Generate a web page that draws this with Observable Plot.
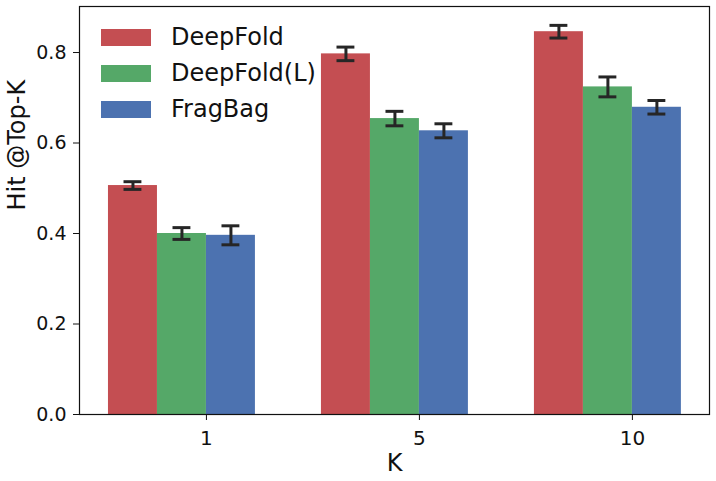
<!DOCTYPE html>
<html><head><meta charset="utf-8">
<script src="https://cdn.jsdelivr.net/npm/d3@7"></script>
<script src="https://cdn.jsdelivr.net/npm/@observablehq/plot@0.6"></script>
<style>
body{margin:0;background:#fff;font-family:"DejaVu Sans",sans-serif}
#wrap{position:relative;width:716px;height:481px}
.leg{position:absolute;left:101px;font-size:24px;color:#111}
.leg .row{display:flex;align-items:center;height:36px}
.leg .sw{width:50px;height:17px;margin-right:20px}
</style>
</head><body><div id="wrap"></div>
<script>
const kValues = ["1", "5", "10"];
const methods = ["DeepFold", "DeepFold(L)", "FragBag"];
const colors = ["#C44E52", "#55A868", "#4C72B0"];
const deepFold = [0.506, 0.797, 0.846];
const deepFoldL = [0.400, 0.654, 0.724];
const fragBag = [0.396, 0.627, 0.679];
const deepFoldErr = [0.0085, 0.015, 0.014];
const deepFoldLErr = [0.013, 0.016, 0.022];
const fragBagErr = [0.021, 0.0155, 0.015];
const yTicks = [0, 0.2, 0.4, 0.6, 0.8];

const values = [deepFold, deepFoldL, fragBag];
const errs = [deepFoldErr, deepFoldLErr, fragBagErr];
const w = 0.23, cap = 0.042;
const rows = [];
methods.forEach((m, s) => kValues.forEach((k, i) => {
  rows.push({method: m, k, i, s, value: values[s][i], err: errs[s][i],
    x1: i + (s - 2) * w, x2: i + (s - 1) * w, c: i + (s - 1.5) * w});
}));

const chart = Plot.plot({
  width: 716, height: 481,
  marginLeft: 79, marginRight: 7, marginTop: 6, marginBottom: 67,
  style: {fontFamily: "DejaVu Sans", background: "#fff", color: "#111"},
  x: {type: "linear", domain: [-0.596, 2.362]},
  y: {domain: [0, 0.9017]},
  color: {domain: methods, range: colors},
  marks: [
    Plot.rect(rows, {x1: "x1", x2: "x2", y1: 0, y2: "value", fill: "method"}),
    Plot.ruleX(rows, {x: "c", y1: d => d.value - d.err, y2: d => d.value + d.err, stroke: "#262626", strokeWidth: 3}),
    Plot.ruleY(rows, {y: d => d.value + d.err, x1: d => d.c - cap, x2: d => d.c + cap, stroke: "#262626", strokeWidth: 3}),
    Plot.ruleY(rows, {y: d => d.value - d.err, x1: d => d.c - cap, x2: d => d.c + cap, stroke: "#262626", strokeWidth: 3}),
    Plot.frame({stroke: "#111", strokeWidth: 1.2}),
    Plot.axisY({ticks: yTicks, tickFormat: d3.format(".1f"), tickSize: 6, tickPadding: 7, fontSize: 19, label: null}),
    Plot.axisX({ticks: [0, 1, 2], tickFormat: i => kValues[i], tickSize: 6, tickPadding: 10, fontSize: 20, label: null}),
    Plot.text(["Hit @Top-K"], {frameAnchor: "left", dx: -62, rotate: -90, fontSize: 24}),
    Plot.text(["K"], {frameAnchor: "bottom", dy: 56, fontSize: 24})
  ]
});
const wrap = document.getElementById("wrap");
wrap.appendChild(chart);
const leg = document.createElement("div");
leg.className = "leg";
leg.style.top = "19px";
methods.forEach((m, s) => {
  const r = document.createElement("div"); r.className = "row";
  const sw = document.createElement("div"); sw.className = "sw"; sw.style.background = colors[s];
  const t = document.createElement("span"); t.textContent = m;
  r.appendChild(sw); r.appendChild(t); leg.appendChild(r);
});
wrap.appendChild(leg);
</script>
</body></html>
